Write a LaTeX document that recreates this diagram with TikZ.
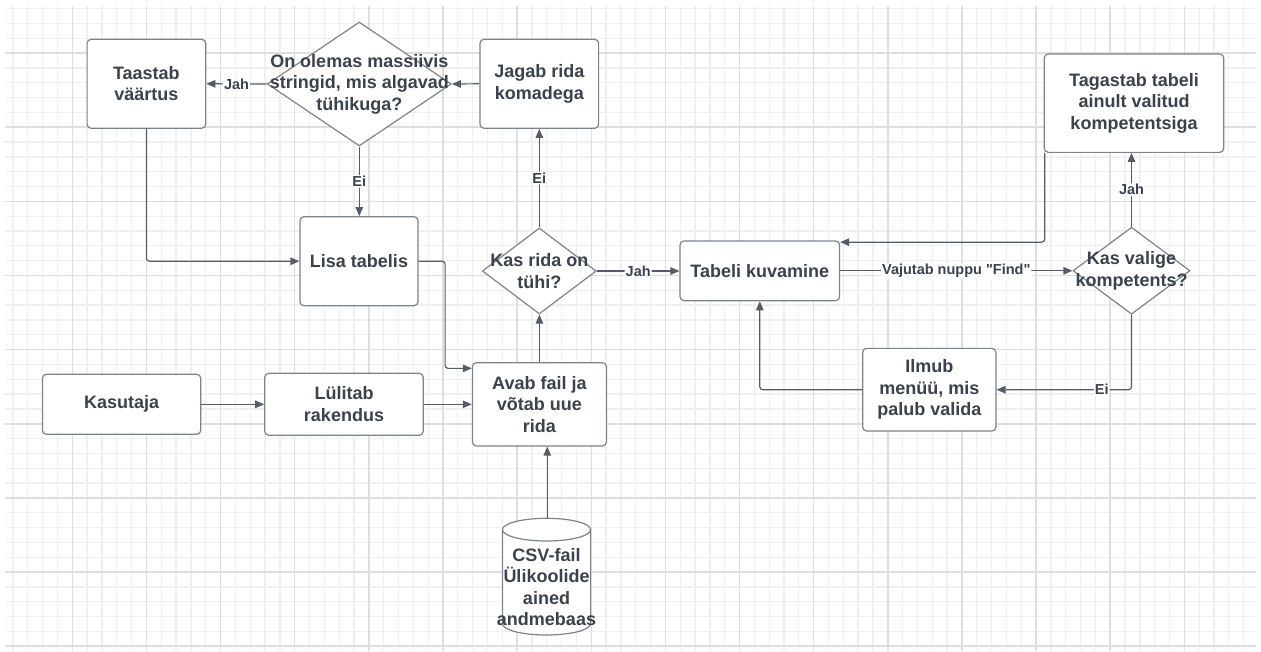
\documentclass[tikz,border=0pt]{standalone}
\usepackage{fontspec}
\setmainfont{Liberation Sans}[Ligatures=TeXOff]
\usetikzlibrary{shapes.geometric, arrows.meta, calc}

\definecolor{inkc}{HTML}{3B424D}
\definecolor{edgec}{HTML}{7D838C}
\definecolor{wirec}{HTML}{555C68}
\definecolor{gminc}{HTML}{EFEFEF}
\definecolor{gmajc}{HTML}{DEDEDE}

\tikzset{
  gminor/.style={draw=gminc, line width=1.3pt},
  gmajor/.style={draw=gmajc, line width=1.5pt},
  box/.style={draw=edgec, line width=1.2pt, fill=white, rounded corners=4pt,
    inner sep=0pt, align=center, text=inkc,
    font=\fontsize{18}{21.5}\selectfont\bfseries},
  dia/.style={diamond, draw=edgec, line width=1.2pt, fill=white, inner sep=0pt},
  dtext/.style={align=center, text=inkc, inner sep=0pt,
    font=\fontsize{18}{21.5}\selectfont\bfseries},
  wire/.style={draw=wirec, line width=1.2pt, rounded corners=3pt,
    -{Triangle[length=9pt,width=7.5pt]}},
  lbl/.style={fill=white, text=inkc, inner sep=1pt,
    font=\fontsize{14.5}{16}\selectfont\bfseries},
}

\begin{document}
\begin{tikzpicture}[x=1pt,y=-1pt]
\useasboundingbox (0,0) rectangle (1261,651);
\fill[white] (0,0) rectangle (1261,651);

% background grid
\foreach \k in {0,...,83} \draw[gminor] ({13+14.827*\k},6) -- ({13+14.827*\k},651);
\foreach \k in {0,...,43} \draw[gminor] (5,{8.6+14.827*\k}) -- (1256,{8.6+14.827*\k});
\foreach \k in {0,...,15} \draw[gmajor] ({72.3+74.135*\k},6) -- ({72.3+74.135*\k},651);
\foreach \k in {0,...,8} \draw[gmajor] (5,{53.1+74.135*\k}) -- (1256,{53.1+74.135*\k});

% process boxes
\node[box, minimum width=118.6pt, minimum height=89pt] (taastab) at (146.4,83.8) {Taastab\\väärtus};
\node[box, minimum width=118.6pt, minimum height=89pt] (jagab) at (539.3,83.8) {Jagab rida\\komadega};
\node[box, minimum width=118pt, minimum height=89pt] (lisa) at (359,261.2) {Lisa tabelis};
\node[box, minimum width=158.4pt, minimum height=60pt] (kasutaja) at (121.6,404.3) {Kasutaja};
\node[box, minimum width=158.4pt, minimum height=62pt] (lulitab) at (344,404.3) {Lülitab\\rakendus};
\node[box, minimum width=134pt, minimum height=83.3pt] (avab) at (539.4,404.3) {Avab fail ja\\võtab uue\\rida};
\node[box, minimum width=159.5pt, minimum height=59.7pt] (tabeli) at (759.8,270.8) {Tabeli kuvamine};
\node[box, minimum width=179.5pt, minimum height=98.3pt] (tagastab) at (1134,103.2) {Tagastab tabeli\\ainult valitud\\kompetentsiga};
\node[box, minimum width=133.3pt, minimum height=82.7pt] (ilmub) at (929.3,389.7) {Ilmub\\menüü, mis\\palub valida};

% decisions
\node[dia, minimum width=184pt, minimum height=124pt] (olemas) at (359.3,84) {};
\node[dtext] (olemas-t) at (olemas.center) {On olemas massiivis\\stringid, mis algavad\\tühikuga?};
\node[dia, minimum width=114pt, minimum height=86pt] (kasrida) at (539.3,271) {};
\node[dtext] (kasrida-t) at (kasrida.center) {Kas rida on\\tühi?};
\node[dia, minimum width=117pt, minimum height=87pt] (kasvalige) at (1131.5,270.7) {};
\node[dtext] (kasvalige-t) at (kasvalige.center) {Kas valige\\kompetents?};

% database cylinder
\draw[draw=edgec, line width=1.2pt, fill=white]
  (502.4,529.65) -- (502.4,623.65)
  .. controls (502.4,629.92) and (522.14,635) .. (546.5,635)
  .. controls (570.86,635) and (590.6,629.92) .. (590.6,623.65)
  -- (590.6,529.65)
  .. controls (590.6,523.38) and (570.86,518.3) .. (546.5,518.3)
  .. controls (522.14,518.3) and (502.4,523.38) .. (502.4,529.65) -- cycle;
\draw[draw=edgec, line width=1.2pt]
  (502.4,529.65) .. controls (502.4,535.92) and (522.14,541) .. (546.5,541)
  .. controls (570.86,541) and (590.6,535.92) .. (590.6,529.65);
\node[dtext] (csv) at (546.5,587) {CSV-fail\\Ülikoolide\\ained\\andmebaas};
\coordinate (csvtop) at (547.3,518.3);

% connectors
\draw[wire] (jagab.west) -- (olemas.east);
\draw[wire] (olemas.west) -- node[lbl]{Jah} (taastab.east);
\draw[wire] (olemas.south) -- node[lbl]{Ei} (olemas.south |- lisa.north);
\draw[wire] (taastab.south) |- (lisa.west);
\coordinate (avabin) at ($(avab.north west)+(0,6.3)$);
\draw[wire] (lisa.east) -- ++(26.5,0) |- (avabin);
\draw[wire] (kasutaja.east) -- (lulitab.west);
\draw[wire] (lulitab.east) -- (avab.west);
\draw[wire] (avab.north) -- (avab.north |- kasrida.south);
\draw[wire] (kasrida.north) -- node[lbl]{Ei} (kasrida.north |- jagab.south);
\draw[wire] (kasrida.east) -- node[lbl]{Jah} (kasrida.east -| tabeli.west);
\draw[wire] (tabeli.east) -- node[lbl]{Vajutab nuppu "Find"} (tabeli.east -| kasvalige.west);
\draw[wire] (kasvalige.north) -- node[lbl]{Jah} (kasvalige.north |- tagastab.south);
\draw[wire] (kasvalige.south) |- node[lbl,pos=0.61]{Ei} (ilmub.east);
\draw[wire] (ilmub.west) -| (tabeli.south);
\coordinate (tagout) at ($(tagastab.south west)+(1.1,0)$);
\coordinate (tabin) at ($(tabeli.north east)+(0,1.8)$);
\draw[wire] (tagout) |- (tabin);
\draw[wire] (csvtop) -- (csvtop |- avab.south);
\end{tikzpicture}
\end{document}
